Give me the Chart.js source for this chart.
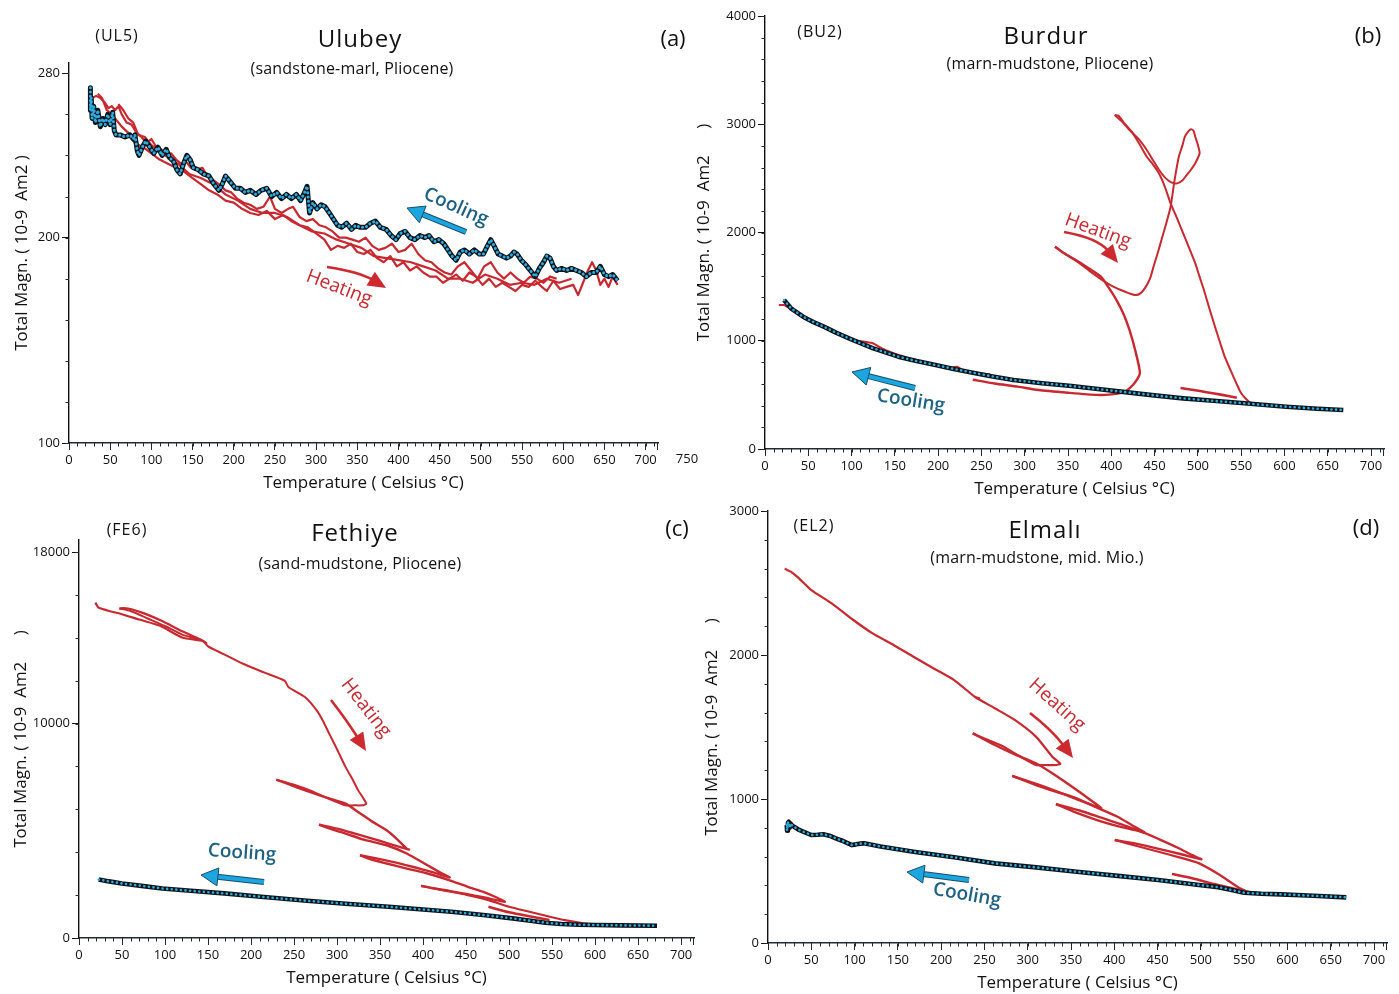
<!DOCTYPE html>
<html>
<head>
<meta charset="utf-8">
<script src="https://cdn.jsdelivr.net/npm/chart.js@4.4.1/dist/chart.umd.min.js"></script>
<style>
  body { margin: 0; background: #fff; }
  canvas { position: absolute; }
</style>
</head>
<body>
<canvas id="pa"></canvas>
<canvas id="pb"></canvas>
<canvas id="pc"></canvas>
<canvas id="pd"></canvas>
<script>
// ---- (a) Ulubey UL5 ----
const ulCoolT = [26, 26, 27, 28, 30, 32, 35, 38, 41, 44, 47, 50, 53, 55, 57, 62, 68, 74, 78, 80, 83, 85, 89, 93, 98, 103, 108, 113, 118, 122, 127, 131, 135, 139, 143, 147, 151, 157, 163, 170, 176, 182, 186, 190, 196, 202, 208, 214, 220, 227, 233, 240, 246, 252, 258, 264, 270, 276, 281, 286, 289, 292, 296, 301, 306, 311, 316, 321, 326, 331, 337, 343, 348, 353, 360, 366, 372, 378, 385, 391, 397, 402, 408, 414, 420, 426, 432, 437, 443, 449, 455, 460, 465, 470, 475, 480, 486, 492, 498, 503, 508, 512, 516, 521, 526, 531, 536, 540, 544, 549, 554, 558, 562, 566, 571, 576, 580, 584, 588, 592, 598, 604, 610, 616, 622, 628, 634, 640, 645, 650, 655, 660, 666];
const ulCoolM = [273, 262, 268, 258, 264, 256, 262, 254, 258, 255, 260, 255, 261, 252, 250, 250, 249, 250, 248, 250, 242, 240, 244, 247, 244, 241, 244, 240, 243, 239, 237, 233, 231, 236, 240, 238, 234, 233, 231, 230, 226, 223, 226, 230, 227, 224, 224, 222, 223, 221, 223, 224, 220, 222, 219, 221, 219, 221, 218, 222, 225, 212, 217, 214, 216, 215, 212, 209, 206, 205, 207, 204, 206, 205, 205, 207, 208, 205, 204, 201, 199, 202, 203, 200, 199, 201, 200, 201, 198, 199, 197, 194, 191, 189, 193, 194, 192, 194, 192, 192, 196, 199, 196, 192, 191, 190, 191, 193, 192, 189, 187, 185, 183, 181, 185, 188, 191, 190, 186, 184, 185, 184, 185, 184, 183, 181, 183, 183, 186, 182, 181, 182, 179];
const ulHeat1T = [28, 33, 38, 43, 48, 52, 56, 60, 64, 70, 76, 82, 88, 94, 100, 106, 112, 118, 124, 130, 136, 142, 148, 155, 162, 168, 175, 182, 190, 197, 204, 212, 220, 228, 236, 244, 250, 258, 266, 272, 280, 288, 296, 304, 312, 320, 328, 336, 344, 352, 360, 368, 376, 384, 392, 400, 408, 416, 424, 432, 440, 448, 456, 464, 472, 480, 488, 496, 504, 512, 520, 528, 536, 544, 552, 560, 568, 576, 584, 592];
const ulHeat1M = [268, 269, 268, 266, 263, 264, 262, 264, 260, 256, 255, 251, 249, 246, 248, 244, 243, 240, 241, 238, 236, 237, 234, 233, 234, 230, 228, 226, 223, 222, 219, 217, 216, 214, 215, 220, 214, 212, 214, 215, 210, 208, 209, 206, 205, 203, 200, 200, 199, 198, 200, 196, 194, 195, 197, 193, 194, 197, 192, 189, 188, 185, 183, 182, 186, 188, 184, 180, 186, 188, 183, 180, 183, 180, 178, 181, 180, 178, 181, 180];
const ulHeat2T = [35, 40, 46, 52, 58, 64, 72, 80, 90, 100, 110, 120, 130, 140, 150, 160, 170, 180, 190, 200, 210, 220, 230, 240, 250, 260, 270, 280, 290, 300, 310, 318, 326, 334, 342, 350, 358, 366, 374, 382, 390, 398, 406, 414, 422, 430, 438, 446, 454, 462, 470, 478, 486, 494, 502, 510, 518, 526, 534, 542, 550, 558, 566, 574, 580, 588, 596, 604, 612, 618, 624, 630, 635, 640, 645, 650, 655, 660, 666];
const ulHeat2M = [270, 268, 262, 260, 257, 254, 251, 246, 244, 241, 238, 236, 234, 232, 229, 226, 223, 221, 218, 217, 214, 212, 211, 213, 209, 211, 208, 206, 205, 202, 199, 194, 196, 195, 197, 193, 192, 194, 190, 188, 191, 186, 188, 184, 186, 183, 181, 181, 178, 180, 182, 179, 183, 181, 177, 180, 176, 178, 176, 174, 177, 176, 179, 176, 174, 179, 175, 176, 177, 172, 178, 184, 188, 184, 177, 180, 176, 181, 177];
const ulHeat3T = [60, 66, 72, 78, 84, 92, 100, 110, 120, 132, 146, 160, 175, 190, 205, 220, 235, 250, 265, 280, 295, 310, 325, 340, 355, 370, 385, 400, 415, 430, 445, 460, 475, 490, 505, 520, 535, 550, 565, 580, 595, 610];
const ulHeat3M = [265, 262, 258, 256, 250, 249, 245, 242, 239, 236, 231, 229, 226, 221, 218, 214, 212, 212, 210, 206, 203, 202, 199, 197, 195, 191, 190, 189, 188, 186, 184, 180, 180, 178, 182, 180, 177, 178, 177, 180, 178, 180];

// ---- (b) Burdur BU2 ----
const buCoolT = [22, 30, 44, 56, 68, 82, 97, 111, 125, 140, 154, 175, 197, 218, 240, 263, 287, 320, 354, 382, 411, 447, 483, 518, 554, 578, 602, 638, 668];
const buCoolM = [1376, 1300, 1222, 1172, 1130, 1075, 1022, 975, 930, 890, 853, 812, 776, 740, 705, 670, 637, 608, 582, 556, 530, 498, 468, 445, 422, 406, 391, 372, 360];
const buHeat1T = [16, 22, 30, 45, 60, 80, 100, 115, 125, 135, 150, 170, 190, 210, 222, 230, 245, 260];
const buHeat1M = [1330, 1330, 1290, 1210, 1150, 1080, 1010, 990, 975, 930, 880, 830, 790, 750, 760, 720, 700, 690];
const buHeat2T = [240, 265, 292, 316, 350, 383, 400, 416, 426, 433, 428, 421, 414, 406, 397, 388, 372, 359, 345, 335];
const buHeat2M = [640, 605, 576, 545, 520, 500, 505, 530, 600, 700, 900, 1100, 1250, 1376, 1490, 1592, 1680, 1746, 1810, 1869];
const buHeat3T = [335, 347, 359, 374, 388, 400, 411, 420, 428, 434, 440, 445, 449, 454, 459, 464, 468.5, 473, 478, 482, 485, 489, 492, 495, 497, 500, 502, 497, 492, 487, 482, 476, 470, 463, 455, 448, 441, 432, 421, 413, 404];
const buHeat3M = [1869, 1800, 1740, 1650, 1570, 1510, 1469, 1440, 1422, 1440, 1500, 1580, 1690, 1820, 1961, 2100, 2238, 2480, 2700, 2800, 2885, 2935, 2953, 2940, 2885, 2810, 2732, 2640, 2580, 2530, 2480, 2454, 2460, 2500, 2580, 2670, 2762, 2860, 2947, 3020, 3085];
const buHeat4T = [404, 408, 416, 425, 433, 441, 448, 455, 462, 468.5, 476, 483, 490, 497, 502, 507, 514, 521, 526, 531, 536, 541, 546, 550, 556, 562, 573];
const buHeat4M = [3085, 3080, 3000, 2916, 2810, 2700, 2630, 2547, 2420, 2270, 2130, 1993, 1855, 1715, 1590, 1469, 1280, 1100, 975, 853, 760, 668, 580, 515, 460, 422, 406];
const buHeat5T = [480, 495, 510, 528, 545];
const buHeat5M = [563, 545, 525, 500, 474];

// ---- (c) Fethiye FE6 ----
const feCoolT = [23, 35, 50, 75, 97, 130, 169, 215, 265, 310, 360, 400, 433, 470, 504, 525, 542, 561, 580, 600, 630, 672];
const feCoolM = [2730, 2640, 2544, 2420, 2311, 2200, 2079, 1910, 1735, 1600, 1457, 1330, 1225, 1070, 915, 800, 713, 651, 620, 605, 590, 572];
const feHeat1T = [19, 21, 23, 35, 50, 70, 95, 120, 144, 148, 140, 120, 96, 75, 61, 52, 47];
const feHeat1M = [15640, 15500, 15400, 15250, 15100, 14850, 14550, 14014, 13860, 13750, 13940, 14300, 14790, 15150, 15333, 15380, 15364];
const feHeat2T = [47, 60, 80, 100, 120, 144, 150, 168, 190, 215, 239, 243.7, 263, 276.5, 284, 291, 300, 310, 318, 324.6, 330, 334, 330, 320, 310, 290, 270, 250, 229.5];
const feHeat2M = [15364, 15250, 14900, 14550, 14150, 13860, 13600, 13240, 12800, 12386, 12000, 11690, 11224, 10604, 10100, 9520, 8800, 7968, 7400, 6884, 6550, 6264, 6190, 6186, 6186, 6500, 6860, 7150, 7380];
const feHeat3T = [229.5, 245, 263, 285, 310, 324.6, 340, 357.6, 370, 381, 383.7, 360, 340, 320, 300, 279];
const feHeat3M = [7380, 7150, 6884, 6580, 6264, 5876, 5450, 5023, 4600, 4172, 4125, 4400, 4650, 4880, 5100, 5288];
const feHeat4T = [279, 295, 310, 330, 357.6, 381, 405, 420, 431, 410, 390, 370, 350, 326.7];
const feHeat4M = [5288, 5050, 4870, 4600, 4325, 3940, 3395, 3050, 2823, 3080, 3300, 3500, 3680, 3860];
const feHeat5T = [326.7, 340, 357.6, 380, 405, 430, 452, 470, 485, 495, 470, 450, 430, 410, 397.7];
const feHeat5M = [3860, 3660, 3474, 3250, 3009, 2700, 2386, 2150, 1900, 1688, 1900, 2050, 2200, 2330, 2433];
const feHeat6T = [397.7, 420, 452, 476, 500, 523.7, 547.4, 565, 585, 600];
const feHeat6M = [2433, 2250, 2000, 1767, 1457, 1225, 991, 830, 700, 640];
const feHeat7T = [476, 500, 525, 547];
const feHeat7M = [1457, 1200, 1000, 837];

// ---- (d) Elmali EL2 ----
const elCoolT = [21.7, 22, 23, 24, 25, 26, 28, 32, 36, 42, 50, 57, 64, 71, 78.3, 85, 92.5, 97, 101.9, 106, 111, 130, 168, 215, 262, 310, 356.6, 404, 451, 498, 520, 535.8, 550, 570, 592.5, 630, 668];
const elCoolM = [820, 780, 835, 842, 800, 830, 815, 800, 785, 770, 750, 752, 755, 745, 727, 712, 692, 680, 685, 690, 692, 670, 634, 595, 553, 525, 495, 466, 437, 403, 388, 368, 349, 342, 338, 328, 317];
const elHeat1T = [19.4, 22, 26.4, 35.8, 50, 73.6, 97, 120.8, 145, 168, 192, 215, 238.8, 244, 240, 262, 285, 309.5, 328.4, 337.7, 333, 320, 309.5, 290, 270, 250, 236.5];
const elHeat1M = [2602, 2590, 2579, 2532, 2451, 2359, 2250, 2150, 2070, 1988, 1905, 1826, 1710, 1700, 1705, 1630, 1549, 1433, 1294, 1245, 1236, 1236, 1236, 1300, 1370, 1420, 1456];
const elHeat2T = [236.5, 262, 285, 309.5, 328.4, 356.6, 372, 384.9, 360, 335, 310, 282.1];
const elHeat2M = [1456, 1375, 1310, 1248, 1178, 1062, 995, 935, 990, 1050, 1105, 1160];
const elHeat3T = [282.1, 309.5, 333, 356.6, 380, 403.8, 420, 435, 410, 385, 360, 332.6];
const elHeat3M = [1160, 1097, 1050, 1005, 940, 877, 820, 766, 820, 870, 920, 965];
const elHeat4T = [332.6, 356, 380, 405, 431, 452, 474.6, 490, 500.6, 475, 450, 425, 400.5];
const elHeat4M = [965, 905, 854, 810, 773, 720, 658, 610, 581, 620, 655, 690, 715];
const elHeat5T = [400.5, 425, 451, 475, 498, 522, 545, 559, 575, 600];
const elHeat5M = [715, 675, 634, 595, 553, 472, 380, 349, 340, 335];
const elHeat6T = [466.6, 490, 515, 545];
const elHeat6M = [479, 450, 410, 368];

const FONT = "'Open Sans', 'Noto Sans', sans-serif";
const RED = '#c8282f';
const TEAL = '#1d6183';
const AXIS = '#1e2b33';
const YTITLE_B = 'Total Magn. ( 10-9  Am2      )';

function pts(T, M) {
  return T.map((t, i) => ({ x: t, y: M[i] }));
}

// black line with cyan beads on top
function coolSets(T, M, w, gap) {
  return [
    { data: pts(T, M), borderColor: '#2fa9e0', borderWidth: w - 2, borderDash: [0.1, gap], borderCapStyle: 'round' },
    { data: pts(T, M), borderColor: '#0d1418', borderWidth: w }
  ];
}

function heatSet(T, M, w, tension) {
  return { data: pts(T, M), borderColor: RED, borderWidth: w, tension: tension };
}

// small ticks between the labelled ones, plus the closing tick at the axis end
const minorTicks = {
  id: 'minorTicks',
  afterDraw(chart, args, o) {
    const { ctx, scales: { x, y } } = chart;
    ctx.save();
    ctx.strokeStyle = AXIS;
    ctx.lineWidth = 1;
    ctx.beginPath();
    for (let v = 0; v <= x.max; v += o.x) {
      const px = Math.round(x.getPixelForValue(v)) + 0.5;
      ctx.moveTo(px, x.top);
      ctx.lineTo(px, x.top + 3.5);
    }
    const ex = Math.round(x.right) - 0.5;
    ctx.moveTo(ex, x.top);
    ctx.lineTo(ex, x.top + 7);
    for (let v = Math.ceil(y.min / o.y) * o.y; v <= y.max; v += o.y) {
      const py = Math.round(y.getPixelForValue(v)) + 0.5;
      ctx.moveTo(y.right, py);
      ctx.lineTo(y.right - 3.5, py);
    }
    ctx.stroke();
    ctx.restore();
  }
};

function drawArrow(ctx, a) {
  const [x1, y1] = a.from, [x2, y2] = a.to;
  const c = a.via || [(x1 + x2) / 2, (y1 + y2) / 2];
  const ang = Math.atan2(y2 - c[1], x2 - c[0]);
  const bx = x2 - a.head * Math.cos(ang), by = y2 - a.head * Math.sin(ang);
  const sx = bx + 3 * Math.cos(ang), sy = by + 3 * Math.sin(ang);
  ctx.beginPath();
  ctx.moveTo(x1, y1);
  ctx.quadraticCurveTo(c[0], c[1], sx, sy);
  if (a.edge) {
    ctx.strokeStyle = a.edge;
    ctx.lineWidth = a.w + 2;
    ctx.stroke();
  }
  ctx.strokeStyle = a.color;
  ctx.lineWidth = a.w;
  ctx.stroke();
  ctx.beginPath();
  ctx.moveTo(x2, y2);
  ctx.lineTo(bx + a.hw * Math.sin(ang), by - a.hw * Math.cos(ang));
  ctx.lineTo(bx - a.hw * Math.sin(ang), by + a.hw * Math.cos(ang));
  ctx.closePath();
  ctx.fillStyle = a.color;
  ctx.fill();
  if (a.edge) {
    ctx.strokeStyle = a.edge;
    ctx.lineWidth = 1;
    ctx.stroke();
  }
}

// titles, panel letters and the heating / cooling notes (page coordinates)
const panelText = {
  id: 'panelText',
  afterDraw(chart, args, o) {
    const ctx = chart.ctx;
    ctx.save();
    ctx.translate(-o.ox, -o.oy);
    ctx.lineCap = 'butt';
    (o.arrows || []).forEach(a => drawArrow(ctx, a));
    (o.texts || []).forEach(t => {
      ctx.save();
      ctx.translate(t.x, t.y);
      if (t.rot) ctx.rotate(t.rot * Math.PI / 180);
      ctx.font = `${t.wt || 400} ${t.s}px ${FONT}`;
      ctx.letterSpacing = (t.ls || 0) + 'px';
      ctx.fillStyle = t.c || '#111';
      ctx.textAlign = 'center';
      ctx.textBaseline = 'middle';
      ctx.fillText(t.t, 0, 0);
      ctx.restore();
    });
    ctx.restore();
  }
};

function cyanArrow(from, to) {
  return { from, to, color: '#1ba6e0', edge: '#1b4c66', w: 4, head: 17, hw: 9 };
}
function redArrow(from, via, to) {
  return { from, via, to, color: '#cd2a30', w: 2.6, head: 18, hw: 8 };
}

function panel(p) {
  const cv = document.getElementById(p.id);
  cv.style.left = p.left + 'px';
  cv.style.top = p.top + 'px';
  cv.width = p.w;
  cv.height = p.h;
  const tickFont = { family: FONT, size: 13 };
  const titleFont = { family: FONT, size: 17 };
  return new Chart(cv, {
    type: 'line',
    data: { datasets: p.datasets },
    options: {
      responsive: false,
      animation: false,
      events: [],
      layout: { autoPadding: false, padding: p.pad },
      elements: { point: { radius: 0 }, line: { tension: 0, borderJoinStyle: 'round' } },
      plugins: {
        legend: { display: false },
        tooltip: { enabled: false },
        minorTicks: p.minor,
        panelText: { ox: p.left, oy: p.top, texts: p.texts, arrows: p.arrows }
      },
      scales: {
        x: {
          type: 'linear', min: 0, max: 715,
          afterFit: s => { s.height = 50; },
          border: { color: AXIS, width: 1.6 },
          grid: { drawOnChartArea: false, tickLength: 7, color: AXIS },
          ticks: {
            stepSize: 50, includeBounds: false, padding: 2, autoSkip: false, maxRotation: 0,
            color: '#111', font: tickFont,
            callback: v => String(v)
          },
          title: { display: true, text: 'Temperature ( Celsius °C)', font: titleFont, color: '#111', padding: 0 }
        },
        y: {
          type: 'linear', min: p.yMin, max: p.yMax,
          afterFit: s => { s.width = p.yWidth; },
          afterBuildTicks: s => {
            if (p.yTicks) s.ticks = p.yTicks.map(v => ({ value: v }));
          },
          border: { color: '#111', width: 1.4 },
          grid: { drawOnChartArea: false, tickLength: 7, color: '#111' },
          ticks: { stepSize: p.yStep, padding: 2, color: '#111', font: tickFont, callback: v => String(v) },
          title: { display: true, text: p.yTitle, font: titleFont, color: '#111', padding: 0 }
        }
      }
    },
    plugins: [minorTicks, panelText]
  });
}

panel({
  id: 'pa', left: 0, top: 0, w: 700, h: 500, yWidth: 57,
  pad: { left: 12, top: 63, right: 42, bottom: 7 },
  yMin: 100, yMax: 285, yTicks: [100, 200, 280], minor: { x: 10, y: 20 },
  yTitle: 'Total Magn. ( 10-9  Am2 )',
  datasets: [
    ...coolSets(ulCoolT, ulCoolM, 5, 4.2),
    heatSet(ulHeat1T, ulHeat1M, 2.2, 0),
    heatSet(ulHeat2T, ulHeat2M, 2.2, 0),
    heatSet(ulHeat3T, ulHeat3M, 2.2, 0)
  ],
  texts: [
    { t: '(UL5)', x: 117, y: 36, s: 16, ls: 1 },
    { t: 'Ulubey', x: 360, y: 40, s: 24, ls: 1 },
    { t: '(sandstone-marl, Pliocene)', x: 352, y: 69, s: 16, ls: 0.2 },
    { t: '(a)', x: 673, y: 40, s: 22 },
    { t: '750', x: 687, y: 459, s: 13 },
    { t: 'Cooling', x: 456, y: 207, s: 19, rot: 24, c: TEAL, wt: 600 },
    { t: 'Heating', x: 339, y: 288, s: 19, rot: 21, c: RED }
  ],
  arrows: [cyanArrow([466, 232], [407, 208]), redArrow([327, 267], [360, 272], [386, 288])]
});

panel({
  id: 'pb', left: 690, top: 0, w: 709, h: 500, yWidth: 71,
  pad: { left: 4, top: 16, right: 15, bottom: 1 },
  yMin: 0, yMax: 4000, yStep: 1000, minor: { x: 10, y: 200 },
  yTitle: YTITLE_B,
  datasets: [
    ...coolSets(buCoolT, buCoolM, 4.6, 4.5),
    heatSet(buHeat1T, buHeat1M, 2, 0.2),
    heatSet(buHeat2T, buHeat2M, 2.4, 0.2),
    heatSet(buHeat3T, buHeat3M, 2, 0.2),
    heatSet(buHeat4T, buHeat4M, 2, 0.2),
    heatSet(buHeat5T, buHeat5M, 2.6, 0.2)
  ],
  texts: [
    { t: '(BU2)', x: 820, y: 32, s: 16, ls: 1 },
    { t: 'Burdur', x: 1046, y: 37, s: 24, ls: 1 },
    { t: '(marn-mudstone, Pliocene)', x: 1050, y: 64, s: 16, ls: 0.2 },
    { t: '(b)', x: 1368, y: 37, s: 22 },
    { t: 'Heating', x: 1098, y: 231, s: 19, rot: 20, c: RED },
    { t: 'Cooling', x: 911, y: 401, s: 19, rot: 9, c: TEAL, wt: 600 }
  ],
  arrows: [redArrow([1064, 232], [1098, 238], [1118, 263]), cyanArrow([915, 388], [852, 372])]
});

panel({
  id: 'pc', left: 0, top: 500, w: 700, h: 494, yWidth: 68,
  pad: { left: 11, top: 40, right: 6, bottom: 6 },
  yMin: 0, yMax: 18560, yTicks: [0, 10000, 18000], minor: { x: 10, y: 2000 },
  yTitle: YTITLE_B,
  datasets: [
    ...coolSets(feCoolT, feCoolM, 4.6, 4.5),
    heatSet(feHeat1T, feHeat1M, 2.2, 0.2),
    heatSet(feHeat2T, feHeat2M, 2, 0.2),
    heatSet(feHeat3T, feHeat3M, 2.4, 0.2),
    heatSet(feHeat4T, feHeat4M, 2.4, 0.2),
    heatSet(feHeat5T, feHeat5M, 2.4, 0.2),
    heatSet(feHeat6T, feHeat6M, 2.2, 0.2),
    heatSet(feHeat7T, feHeat7M, 2.6, 0.2)
  ],
  texts: [
    { t: '(FE6)', x: 127, y: 530, s: 16, ls: 1 },
    { t: 'Fethiye', x: 355, y: 534, s: 24, ls: 1 },
    { t: '(sand-mudstone, Pliocene)', x: 360, y: 564, s: 16, ls: 0.2 },
    { t: '(c)', x: 677, y: 530, s: 22 },
    { t: 'Heating', x: 366, y: 708, s: 19, rot: 52, c: RED },
    { t: 'Cooling', x: 242, y: 853, s: 19, rot: 4, c: TEAL, wt: 600 }
  ],
  arrows: [redArrow([331, 700], [348, 722], [366, 751]), cyanArrow([264, 882], [201, 875])]
});

panel({
  id: 'pd', left: 690, top: 500, w: 709, h: 494, yWidth: 66,
  pad: { left: 12, top: 11, right: 12, bottom: 1 },
  yMin: 0, yMax: 3000, yStep: 1000, minor: { x: 10, y: 200 },
  yTitle: YTITLE_B,
  datasets: [
    ...coolSets(elCoolT, elCoolM, 4.6, 4.5),
    heatSet(elHeat1T, elHeat1M, 2.2, 0.2),
    heatSet(elHeat2T, elHeat2M, 2.4, 0.2),
    heatSet(elHeat3T, elHeat3M, 2.4, 0.2),
    heatSet(elHeat4T, elHeat4M, 2.4, 0.2),
    heatSet(elHeat5T, elHeat5M, 2.2, 0.2),
    heatSet(elHeat6T, elHeat6M, 2.6, 0.2)
  ],
  texts: [
    { t: '(EL2)', x: 814, y: 526, s: 16, ls: 1 },
    { t: 'Elmalı', x: 1045, y: 531, s: 24, ls: 1 },
    { t: '(marn-mudstone, mid. Mio.)', x: 1037, y: 558, s: 16, ls: 0.2 },
    { t: '(d)', x: 1366, y: 529, s: 22 },
    { t: 'Heating', x: 1057, y: 705, s: 19, rot: 42, c: RED },
    { t: 'Cooling', x: 967, y: 895, s: 19, rot: 10, c: TEAL, wt: 600 }
  ],
  arrows: [redArrow([1030, 713], [1052, 730], [1073, 758]), cyanArrow([969, 880], [907, 872])]
});
</script>
</body>
</html>
